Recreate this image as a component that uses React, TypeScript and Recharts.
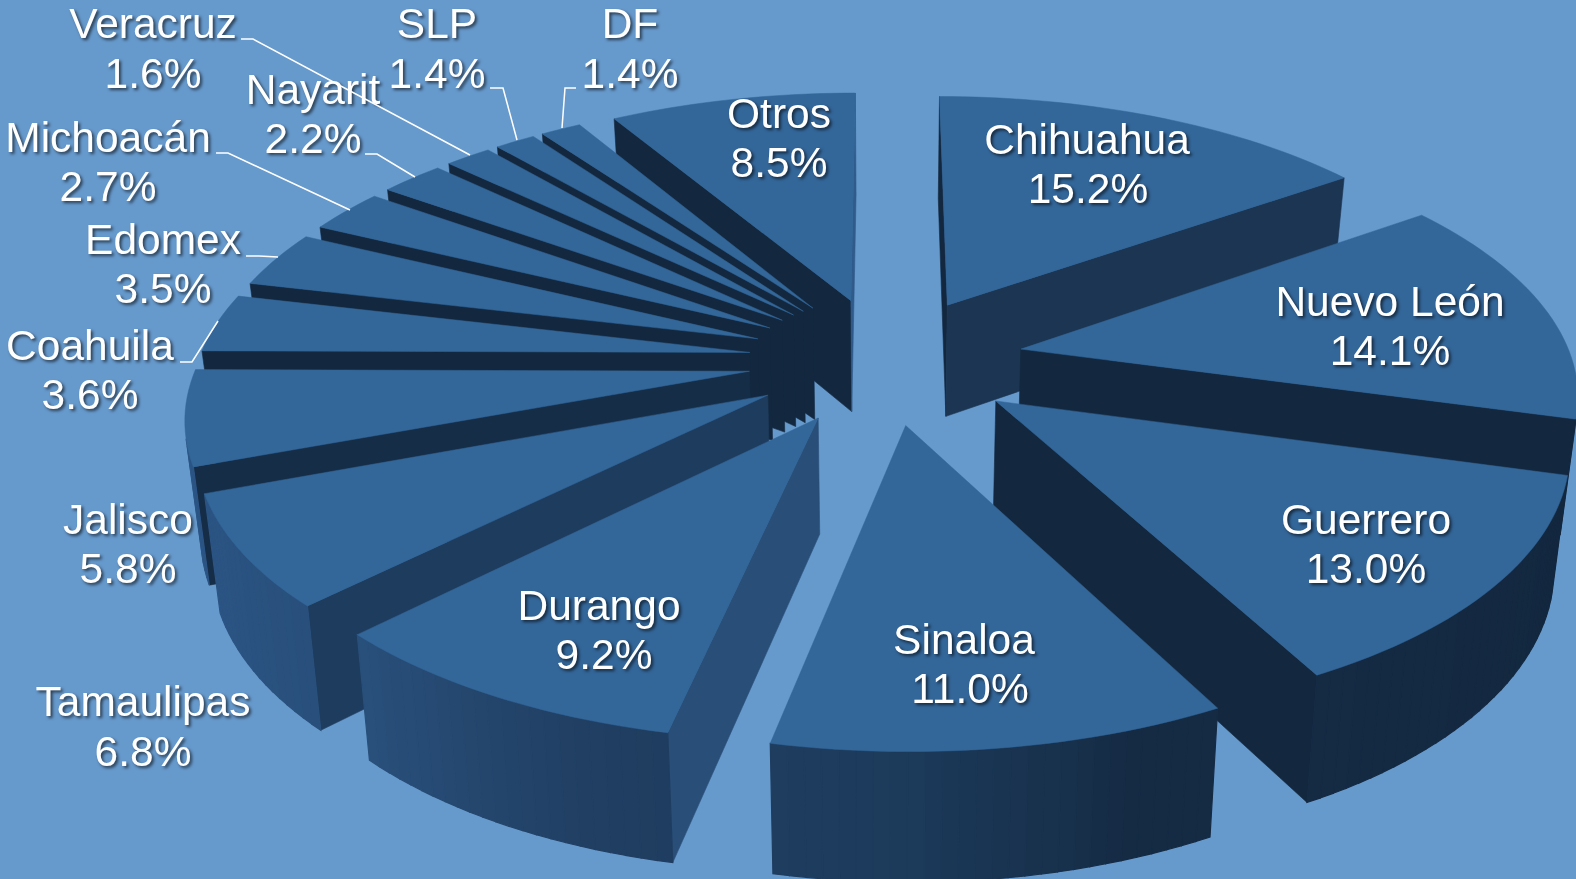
import React from 'react';
import { PieChart, Pie } from 'recharts';

const states = ['Chihuahua', 'Nuevo León', 'Guerrero', 'Sinaloa', 'Durango', 'Tamaulipas', 'Jalisco', 'Coahuila', 'Edomex', 'Michoacán', 'Nayarit', 'Veracruz', 'SLP', 'DF', 'Otros'];
const shares = [15.2, 14.1, 13.0, 11.0, 9.2, 6.8, 5.8, 3.6, 3.5, 2.7, 2.2, 1.6, 1.4, 1.4, 8.5];

const pieData = states.map((name, i) => ({ name, value: shares[i] }));

// label placement, [x, baseline] for the name and the percentage
const labelPos: Record<string, number[]> = {
  Chihuahua: [1087, 154, 1088, 203],
  'Nuevo León': [1390, 316, 1390, 365],
  Guerrero: [1366, 534, 1366, 583],
  Sinaloa: [964, 654, 970, 703],
  Durango: [599, 620, 604, 669],
  Tamaulipas: [143, 716, 143, 766],
  Jalisco: [128, 534, 128, 583],
  Coahuila: [90, 360, 90, 409],
  Edomex: [163, 254, 163, 303],
  Michoacán: [108, 152, 108, 201],
  Nayarit: [313, 104, 313, 153],
  Veracruz: [153, 38, 153, 88],
  SLP: [437, 38, 437, 88],
  DF: [630, 38, 630, 88],
  Otros: [779, 128, 779, 177],
};

const leaders: Record<string, string> = {
  Veracruz: '241,39 253,39 470,155',
  SLP: '490,88 503,88 517,140',
  DF: '576,88 565,88 562,128',
  Nayarit: '365,154 377,154 415,177',
  Michoacán: '216,153 228,153 350,210',
  Edomex: '246,256 259,256 278,257',
  Coahuila: '180,362 192,362 218,321',
};

// projection of the tilted pie
const RATIO = 0.463;
const PERSP = 0.15;
const EXPLODE = 0.25;
const BOTTOM_X = 0.977;

const arcStops: [number, string][] = [[110, '#13283f'], [160, '#152b44'], [180, '#1c3a5a'], [200, '#213f63'], [225, '#29507c'], [245, '#2b5483'], [270, '#2c5686']];
const edgeStops: [number, string][] = [[90, '#2f5a8a'], [102, '#294f78'], [135, '#1e3c5e'], [145, '#1b3552'], [170, '#13283f'], [360, '#13283f']];

const mixColor = (stops: [number, string][], t: number) => {
  if (t <= stops[0][0]) return stops[0][1];
  for (let i = 1; i < stops.length; i++) {
    if (t <= stops[i][0]) {
      const [t0, c0] = stops[i - 1];
      const [t1, c1] = stops[i];
      const f = (t - t0) / (t1 - t0);
      const ch = (c: string, p: number) => parseInt(c.slice(p, p + 2), 16);
      const mix = (p: number) => Math.round(ch(c0, p) + (ch(c1, p) - ch(c0, p)) * f);
      return `rgb(${mix(1)},${mix(3)},${mix(5)})`;
    }
  }
  return stops[stops.length - 1][1];
};

const Slice3D = (props: any) => {
  const { cx, cy, outerRadius, startAngle, endAngle } = props;
  // recharts angles are counter-clockwise from 3 o'clock, work in clock degrees
  const a0 = 90 - startAngle;
  const a1 = 90 - endAngle;
  const mid = ((a0 + a1) / 2) * Math.PI / 180;
  const offU = EXPLODE * Math.sin(mid);
  const offV = -EXPLODE * Math.cos(mid);

  const project = (r: number, deg: number) => {
    const t = deg * Math.PI / 180;
    const u = offU + r * Math.sin(t);
    const v = offV - r * Math.cos(t);
    const k = 1 / (1 - PERSP * v);
    const x = cx + u * outerRadius * k;
    const y = cy + v * outerRadius * RATIO * k;
    return { x, y, bx: cx + (x - cx) * BOTTOM_X, by: y + (39 + 74 * k) * 1.005 };
  };

  const wall = (p: any, q: any, fill: string, key: string, sw = 0.6) => {
    const area = p.x * q.y - q.x * p.y + q.x * q.by - q.bx * q.y + q.bx * p.by - p.bx * q.by + p.bx * p.y - p.x * p.by;
    if (area >= 0) return null;
    return <polygon key={key} points={`${p.x},${p.y} ${q.x},${q.y} ${q.bx},${q.by} ${p.bx},${p.by}`} fill={fill} stroke={fill} strokeWidth={sw} />;
  };

  const steps = Math.max(3, Math.ceil((a1 - a0) / 1.5));
  const rim = Array.from({ length: steps + 1 }, (_, i) => project(1, a0 + ((a1 - a0) * i) / steps));
  const tip = project(0, 0);

  const top = [tip, ...rim].map((p) => `${p.x},${p.y}`).join(' ');
  return (
    <g>
      {wall(tip, rim[0], mixColor(edgeStops, (a0 - 90 + 360) % 360), 'start')}
      {wall(rim[steps], tip, mixColor(edgeStops, (a1 + 90) % 360), 'end')}
      {rim.slice(0, steps).map((p, i) => wall(p, rim[i + 1], mixColor(arcStops, a0 + ((a1 - a0) * (i + 0.5)) / steps), `arc${i}`, 1.2))}
      <polygon points={top} fill="#336699" stroke="#336699" strokeWidth={0.5} />
    </g>
  );
};

const textStyle = { filter: 'drop-shadow(2px 2px 1.5px rgba(0,0,0,0.6))' };

const SliceLabel = (props: any) => {
  const name = props.name ?? props.payload?.name;
  const pos = labelPos[name];
  if (!pos) return null;
  const pct = shares[states.indexOf(name)].toFixed(1) + '%';
  const common = { fill: '#ffffff', fontSize: 42.5, fontFamily: '"Liberation Sans", Arial, sans-serif', textAnchor: 'middle' as const, style: textStyle };
  return (
    <g>
      {leaders[name] && <polyline points={leaders[name]} fill="none" stroke="#ffffff" strokeWidth={1.5} />}
      <text x={pos[0]} y={pos[1]} {...common}>{name}</text>
      <text x={pos[2]} y={pos[3]} {...common}>{pct}</text>
    </g>
  );
};

// back slices first so the front ones overlap them
let running = 0;
const depthOf = shares.map((s, i) => {
  const mid = (running + s / 2) * 3.6 * Math.PI / 180;
  running += s;
  return { i, depth: -Math.cos(mid) };
});
const paintOrder = [...depthOf].sort((a, b) => a.depth - b.depth).map((d) => d.i);

export default function App() {
  return (
    <div style={{ position: 'fixed', left: 0, top: 0, width: 1576, height: 879, background: '#6699cc', overflow: 'hidden' }}>
      <PieChart width={1576} height={879} margin={{ top: 0, right: 0, bottom: 0, left: 0 }}>
        {paintOrder.map((idx) => (
          <Pie
            key={states[idx]}
            data={pieData}
            dataKey="value"
            nameKey="name"
            cx={886}
            cy={360}
            outerRadius={551}
            startAngle={90}
            endAngle={-270}
            stroke="none"
            isAnimationActive={false}
            shape={(p: any) => ((p.name ?? p.payload?.name) === states[idx] ? <Slice3D {...p} /> : <g />)}
          />
        ))}
        <Pie
          data={pieData}
          dataKey="value"
          nameKey="name"
          cx={886}
          cy={360}
          outerRadius={551}
          startAngle={90}
          endAngle={-270}
          isAnimationActive={false}
          shape={() => <g />}
          label={SliceLabel}
          labelLine={false}
        />
      </PieChart>
    </div>
  );
}
